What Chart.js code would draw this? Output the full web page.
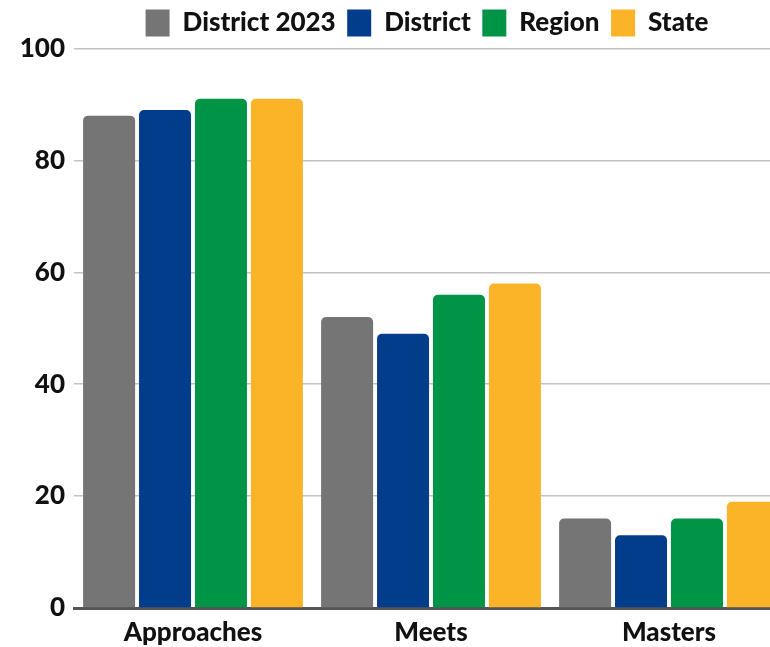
<!DOCTYPE html>
<html>
<head>
<meta charset="utf-8">
<script src="https://cdn.jsdelivr.net/npm/chart.js@4"></script>
<style>
  html, body { margin: 0; padding: 0; background: #fff; overflow: hidden; }
  #wrap { width: 854px; height: 647px; position: relative; }
</style>
</head>
<body>
<div id="wrap"><canvas id="grafico"></canvas></div>
<script>
// Datos del gráfico
const categorias = ['Approaches', 'Meets', 'Masters'];
const distrito2023 = [88, 52, 16];
const distrito = [89, 49, 13];
const region = [91, 56, 16];
const estado = [91, 58, 19];
const ticksY = [0, 20, 40, 60, 80, 100];

const fuente = "'Lato', 'Noto Sans', sans-serif";

function serie(label, data, color) {
    return {
        label: label,
        data: data,
        backgroundColor: color,
        borderWidth: 0,
        borderRadius: { topLeft: 5, topRight: 5 },
        borderSkipped: 'bottom',
        categoryPercentage: 0.94,
        barPercentage: 0.93
    };
}

// Mueve la leyenda para centrarla en todo el lienzo
const moverLeyenda = {
    id: 'moverLeyenda',
    afterLayout: function(chart) {
        chart.legend.left += 33;
        chart.legend.right += 33;
        chart.legend.top -= 2;
        chart.legend.bottom -= 2;
    }
};

const ctx = document.getElementById('grafico').getContext('2d');
new Chart(ctx, {
    type: 'bar',
    data: {
        labels: categorias,
        datasets: [
            serie('District 2023', distrito2023, '#757575'),
            serie('District', distrito, '#023d8b'),
            serie('Region', region, '#009447'),
            serie('State', estado, '#fbb328')
        ]
    },
    options: {
        responsive: true,
        maintainAspectRatio: false,
        animation: false,
        layout: { padding: { left: 0, right: 66, top: 0, bottom: 0 } },
        plugins: {
            legend: {
                position: 'top',
                labels: {
                    boxWidth: 24,
                    boxHeight: 27,
                    padding: 11.5,
                    color: '#111',
                    font: { family: fuente, size: 26, weight: 900 }
                }
            },
            tooltip: { enabled: false }
        },
        scales: {
            x: {
                afterFit: function(scale) { scale.height = 39; },
                grid: { display: false },
                border: { color: '#555', width: 3 },
                ticks: {
                    color: '#111',
                    padding: 1,
                    font: { family: fuente, size: 26, weight: 900 }
                }
            },
            y: {
                min: 0,
                max: 100,
                afterFit: function(scale) { scale.width = 74; },
                afterBuildTicks: function(scale) {
                    scale.ticks = ticksY.map(v => ({ value: v }));
                },
                grid: { color: '#c4c4c4', lineWidth: 1.5, drawTicks: false },
                border: { display: false },
                ticks: {
                    color: '#111',
                    padding: 9,
                    font: { family: fuente, size: 26, weight: 900 }
                }
            }
        }
    },
    plugins: [moverLeyenda]
});
</script>
</body>
</html>
